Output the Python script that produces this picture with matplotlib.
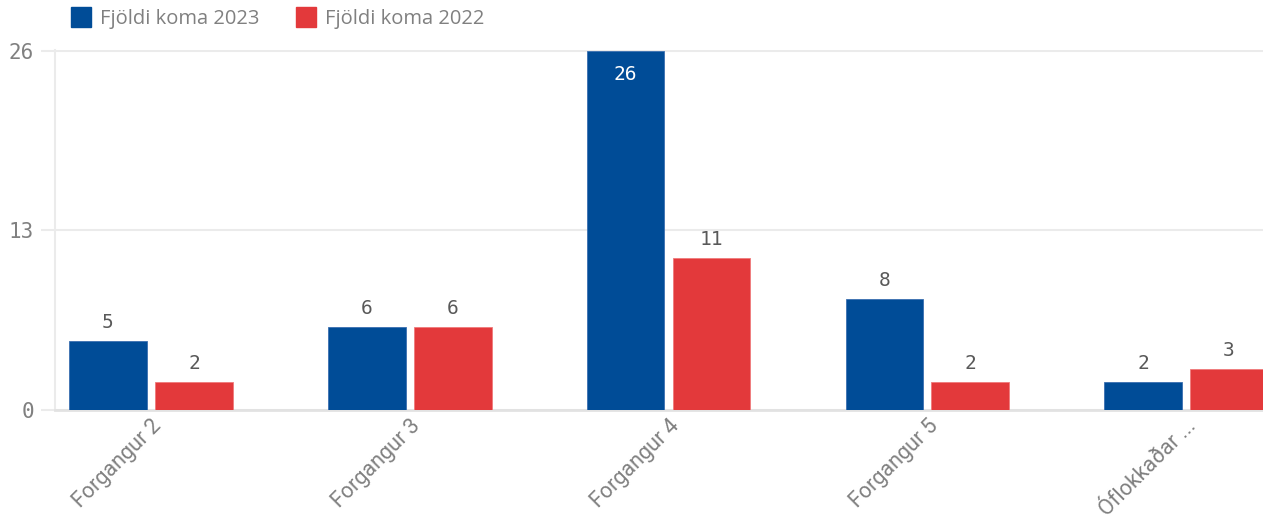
import numpy as np
import matplotlib.pyplot as plt
from matplotlib.lines import Line2D

# data
categories = ['Forgangur 2', 'Forgangur 3', 'Forgangur 4', 'Forgangur 5', 'Óflokkaðar ...']
koma_2023 = [5, 6, 26, 8, 2]
koma_2022 = [2, 6, 11, 2, 3]
series_names = ['Fjöldi koma 2023', 'Fjöldi koma 2022']
y_ticks = [0, 13, 26]

BLUE = '#004c97'
RED = '#e3393b'
GRID = '#ebebeb'
TXT = '#808080'
VAL = '#595959'
MONO = 'DejaVu Sans Mono'

plt.rcParams['font.family'] = ['Open Sans', 'DejaVu Sans']

fig = plt.figure(figsize=(12.63, 5.2), dpi=100)
ax = fig.add_axes([0.0435, 0.2115, 0.9565, 0.6923])

x = np.arange(len(categories))
w = 0.30
off = 0.166
b1 = ax.bar(x - off, koma_2023, w, color=BLUE, edgecolor='#3a6fb0', linewidth=0.6, zorder=3)
b2 = ax.bar(x + off, koma_2022, w, color=RED, edgecolor='#ef7a7b', linewidth=0.6, zorder=3)

ax.set_xlim(-0.371, 4.297)
ax.set_ylim(0, 26.05)

# value labels
for bars, vals in ((b1, koma_2023), (b2, koma_2022)):
    for rect, v in zip(bars, vals):
        cx = rect.get_x() + rect.get_width() / 2
        if v >= 20:
            t = ax.text(cx, v - 1.0, str(v), ha='center', va='top', color='white',
                        fontsize=14, zorder=4)
        else:
            t = ax.text(cx, v + 0.65, str(v), ha='center', va='bottom', color=VAL,
                        fontsize=14, zorder=4)
        t.set_fontfamily(MONO)

ax.set_yticks(y_ticks)
ax.set_yticklabels([str(t) for t in y_ticks], fontfamily=MONO, fontsize=15, color=TXT)
ax.tick_params(axis='y', length=10, width=1.5, color=GRID, pad=5)
ax.yaxis.grid(True, color=GRID, linewidth=1.5, zorder=0)

ax.set_xticks(x)
ax.set_xticklabels(categories, rotation=45, ha='right', va='top',
                   rotation_mode='anchor', fontsize=15.5, color=TXT,
                   fontfamily=['Roboto', 'DejaVu Sans'])
ax.tick_params(axis='x', length=0, pad=4)

for s in ('top', 'right'):
    ax.spines[s].set_visible(False)
ax.spines['left'].set_color(GRID)
ax.spines['left'].set_linewidth(1.5)
ax.spines['bottom'].set_color('#e2e2e2')
ax.spines['bottom'].set_linewidth(2)

handles = [Line2D([], [], marker='s', linestyle='none', markersize=14, color=c)
           for c in (BLUE, RED)]
leg = fig.legend(handles, series_names, loc='center left', bbox_to_anchor=(0.05, 0.963),
                 ncol=2, frameon=False, fontsize=14.5, handletextpad=0.45,
                 columnspacing=1.8, handlelength=1.0, borderaxespad=0)
for t in leg.get_texts():
    t.set_color(TXT)

fig.savefig('out.png', dpi=100)
